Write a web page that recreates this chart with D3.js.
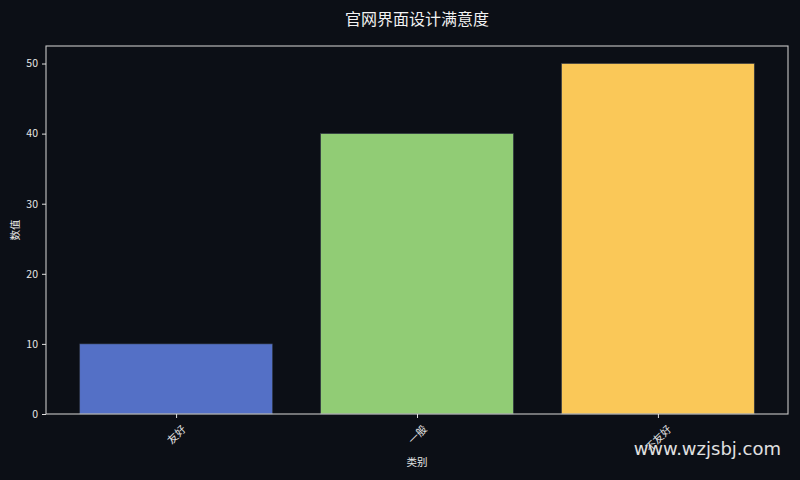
<!DOCTYPE html>
<html>
<head>
<meta charset="utf-8">
<script src="https://cdn.jsdelivr.net/npm/d3@7"></script>
<style>
  body { margin: 0; background: #0c0f16; }
  svg { display: block; }
  text { font-family: "Noto Sans CJK SC", "DejaVu Sans", sans-serif; }
</style>
</head>
<body>
<div id="chart"></div>
<script>
// data
const categories = ["友好", "一般", "不友好"];
const values = [10, 40, 50];
const barColors = ["#5470c6", "#91cc75", "#fac858"];
const yTicks = [0, 10, 20, 30, 40, 50];

const titleText = "官网界面设计满意度";
const xLabel = "类别";
const yLabel = "数值";
const watermark = "www.wzjsbj.com";

const W = 800, H = 480;
const margin = { top: 46, right: 12, bottom: 66, left: 46 };
const width = W - margin.left - margin.right;
const height = H - margin.top - margin.bottom;

const svg = d3.select("#chart").append("svg")
  .attr("width", W)
  .attr("height", H);

svg.append("rect").attr("width", W).attr("height", H).attr("fill", "#0c0f16");

const g = svg.append("g").attr("transform", `translate(${margin.left},${margin.top})`);

// scales (matplotlib-like: bars width 0.8, 5% margins)
let x = d3.scaleLinear().domain([-0.54, categories.length - 1 + 0.54]).range([0, width]);
let y = d3.scaleLinear().domain([0, 52.5]).range([height, 0]);

// bars
g.selectAll(".bar")
  .data(values)
  .enter()
  .append("rect")
  .attr("class", "bar")
  .attr("x", (d, i) => x(i - 0.4))
  .attr("width", x(0.8) - x(0))
  .attr("y", d => y(d))
  .attr("height", d => y(0) - y(d))
  .attr("fill", (d, i) => barColors[i])
  .attr("stroke", "#333a48")
  .attr("stroke-width", 0.6);

// frame
g.append("rect")
  .attr("x", 0).attr("y", 0)
  .attr("width", width).attr("height", height)
  .attr("fill", "none")
  .attr("stroke", "#c8c8c8")
  .attr("stroke-width", 1.1);

// y axis
let yAxis = d3.axisLeft(y).tickValues(yTicks).tickSize(4).tickPadding(4);
let yg = g.append("g").call(yAxis);
yg.select(".domain").remove();
yg.selectAll("line").attr("stroke", "#e0e0e0");
yg.selectAll("text").attr("fill", "#e6e6e6").style("font-size", "10.5px");

// x axis
let xAxis = d3.axisBottom(x).tickValues(d3.range(categories.length)).tickSize(4).tickFormat("");
let xg = g.append("g").attr("transform", `translate(0,${height})`).call(xAxis);
xg.select(".domain").remove();
xg.selectAll("line").attr("stroke", "#e0e0e0");

// rotated tick labels, bbox centred under the tick
const fs = 10.5;
categories.forEach((c, i) => {
  let w = c.length * fs;
  let half = (w + fs) * Math.SQRT1_2 / 2;
  let cx = x(i), cy = height + 9 + half;
  g.append("text")
    .attr("x", cx).attr("y", cy)
    .attr("text-anchor", "middle")
    .attr("dominant-baseline", "central")
    .attr("transform", `rotate(-45,${cx},${cy})`)
    .attr("fill", "#e6e6e6")
    .style("font-size", fs + "px")
    .text(c);
});

// axis labels
svg.append("text")
  .attr("x", margin.left + width / 2).attr("y", 466)
  .attr("text-anchor", "middle")
  .attr("fill", "#e6e6e6")
  .style("font-size", "10.5px")
  .text(xLabel);

svg.append("text")
  .attr("transform", `translate(19,${margin.top + height / 2}) rotate(-90)`)
  .attr("text-anchor", "middle")
  .attr("fill", "#e6e6e6")
  .style("font-size", "10.5px")
  .text(yLabel);

// title
svg.append("text")
  .attr("x", margin.left + width / 2).attr("y", 25)
  .attr("text-anchor", "middle")
  .attr("fill", "#f2f2f2")
  .style("font-size", "16px")
  .text(titleText);

// watermark
svg.append("text")
  .attr("x", 781).attr("y", 455)
  .attr("text-anchor", "end")
  .attr("fill", "#e0e0e0")
  .style("font-family", "'DejaVu Sans', sans-serif")
  .style("font-size", "18px")
  .text(watermark);
</script>
</body>
</html>
